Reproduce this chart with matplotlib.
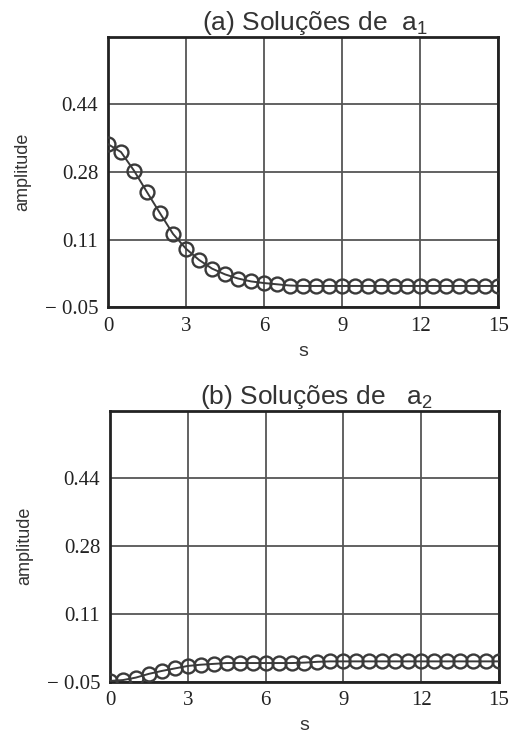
import matplotlib
matplotlib.use("Agg")
import matplotlib.pyplot as plt
import numpy as np

plt.rcParams['mathtext.default'] = 'regular'

s_values = [0, 0.5, 1, 1.5, 2, 2.5, 3, 3.5, 4, 4.5, 5, 5.5, 6, 6.5, 7, 7.5, 8, 8.5,
            9, 9.5, 10, 10.5, 11, 11.5, 12, 12.5, 13, 13.5, 14, 14.5, 15]
a1_values = [0.344, 0.325, 0.280, 0.228, 0.177, 0.127, 0.091, 0.064, 0.043, 0.029,
             0.019, 0.012, 0.008, 0.005, 0.002, 0.001, 0.001, 0.001, 0.001, 0.001,
             0.001, 0.001, 0.001, 0.001, 0.001, 0.001, 0.001, 0.001, 0.001, 0.001, 0.001]
a2_values = [-0.048, -0.046, -0.040, -0.031, -0.024, -0.018, -0.012, -0.009, -0.007, -0.005,
             -0.005, -0.005, -0.005, -0.005, -0.005, -0.004, -0.002, -0.001, -0.001, -0.001,
             -0.001, -0.001, -0.001, -0.001, -0.001, -0.001, -0.001, -0.001, -0.001, -0.001, -0.001]

x_ticks = [0, 3, 6, 9, 12, 15]
y_ticks = [-0.05, 0.1133, 0.2767, 0.44, 0.6033]
y_tick_labels = ["\u2212 0.05", "0.11", "0.28", "0.44", ""]
titles = ["(a) Soluções de  $a_1$", "(b) Soluções de   $a_2$"]

fig = plt.figure(figsize=(5.13, 7.37), dpi=100)
boxes = [[0.2105, 0.5834, 0.7605, 0.3664], [0.2144, 0.075, 0.7583, 0.368]]
series = [a1_values, a2_values]

line_col = '#3a3a3a'
for box, ys, title in zip(boxes, series, titles):
    ax = fig.add_axes(box)
    ax.plot(s_values, ys, color=line_col, lw=1.4, marker='o', ms=10,
            mfc='none', mec=line_col, mew=1.7, clip_on=True, zorder=3)
    ax.set_xlim(0, 15)
    ax.set_ylim(-0.05, 0.6033)
    ax.set_xticks(x_ticks)
    ax.set_xticklabels([str(t) for t in x_ticks], family='Liberation Serif', fontsize=15)
    ax.set_yticks(y_ticks)
    ax.set_yticklabels(y_tick_labels, family='Liberation Serif', fontsize=15)
    ax.tick_params(length=0, pad=7, colors='#222222')
    ax.grid(True, color='#555555', lw=1.3)
    ax.set_axisbelow(True)
    for sp in ax.spines.values():
        sp.set_linewidth(2.0)
        sp.set_color('#222222')
    ax.set_ylabel('amplitude', family='Liberation Sans', fontsize=13, color='#333333', labelpad=10)
    ax.set_xlabel('s', family='Liberation Sans', fontsize=14, color='#333333', labelpad=5)
    ax.set_title(title, family='Liberation Sans', fontsize=19, color='#333333', pad=5, x=0.53)

fig.savefig('out.png', dpi=100)
